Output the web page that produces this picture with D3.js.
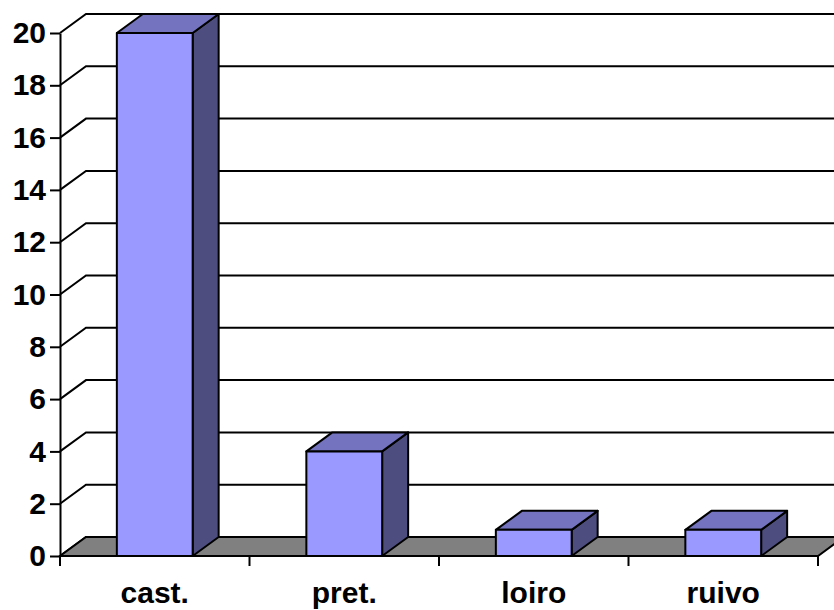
<!DOCTYPE html>
<html>
<head>
<meta charset="utf-8">
<script src="https://cdn.jsdelivr.net/npm/d3@7"></script>
<style>
    body { margin: 0; background: #fff; }
    text { font-family: "Liberation Sans", Arial, sans-serif; font-weight: bold; }
</style>
</head>
<body>
<div class="graph1"></div>
<script>
// hair colour counts
const categories = ["cast.", "pret.", "loiro", "ruivo"];
const counts = [20, 4, 1, 1];
const yTicks = [0, 2, 4, 6, 8, 10, 12, 14, 16, 18, 20];

const dataset = categories.map((c, i) => ({ name: c, value: counts[i] }));

const w = 834;
const h = 610;

// depth of the 3d box
const depth = { dx: 26, dy: 19 };

const svg = d3.select(".graph1")
    .append("svg")
    .attr("width", w)
    .attr("height", h);

const yScale = d3.scaleLinear()
    .domain([0, 20])
    .range([556, 33]);

const xScale = d3.scaleBand()
    .domain(categories)
    .range([60, 818])
    .paddingInner(0.6)
    .paddingOuter(0.3);

// plain band scale for the category tick marks
const xEdges = d3.scaleBand()
    .domain(categories)
    .range([60, 818]);

// back wall + side wall gridlines
svg.append("g")
    .selectAll("path")
    .data(yTicks)
    .enter()
    .append("path")
    .attr("fill", "none")
    .attr("stroke", "#000")
    .attr("stroke-width", 2)
    .attr("d", d => `M60,${yScale(d)} L${60 + depth.dx},${yScale(d) - depth.dy} L${w + 20},${yScale(d) - depth.dy}`);

// floor
const y0 = yScale(0);
svg.append("path")
    .attr("fill", "#808080")
    .attr("stroke", "#000")
    .attr("stroke-width", 2)
    .attr("d", `M60,${y0} L818,${y0} L${818 + depth.dx},${y0 - depth.dy} L${60 + depth.dx},${y0 - depth.dy} Z`);

// bars
const bars = svg.append("g")
    .selectAll("g")
    .data(dataset)
    .enter()
    .append("g")
    .attr("stroke", "#000")
    .attr("stroke-width", 2)
    .attr("stroke-linejoin", "round");

const bw = xScale.bandwidth();

bars.append("path")
    .attr("fill", "#4d4d80")
    .attr("d", d => {
        const x = xScale(d.name) + bw, yt = yScale(d.value);
        return `M${x},${yt} L${x + depth.dx},${yt - depth.dy} L${x + depth.dx},${y0 - depth.dy} L${x},${y0} Z`;
    });

bars.append("path")
    .attr("fill", "#7373bf")
    .attr("d", d => {
        const x = xScale(d.name), yt = yScale(d.value);
        return `M${x},${yt} L${x + depth.dx},${yt - depth.dy} L${x + bw + depth.dx},${yt - depth.dy} L${x + bw},${yt} Z`;
    });

bars.append("rect")
    .attr("fill", "#9999ff")
    .attr("x", d => xScale(d.name))
    .attr("y", d => yScale(d.value))
    .attr("width", bw)
    .attr("height", d => y0 - yScale(d.value));

// y axis
const yAxis = d3.axisLeft(yScale)
    .tickValues(yTicks)
    .tickSize(10)
    .tickSizeOuter(0)
    .tickPadding(4);

const yAxisGroup = svg.append("g")
    .attr("class", "axisY")
    .attr("transform", "translate(60,0)")
    .call(yAxis);

yAxisGroup.selectAll("line, path")
    .attr("stroke", "#000")
    .attr("stroke-width", 2);
yAxisGroup.selectAll("text")
    .attr("font-size", "30px")
    .attr("fill", "#000");

// x axis: line, tick marks at band edges, labels
svg.append("line")
    .attr("x1", 60).attr("x2", 818)
    .attr("y1", y0).attr("y2", y0)
    .attr("stroke", "#000")
    .attr("stroke-width", 2);

const edges = categories.map(c => xEdges(c)).concat([818]);
svg.append("g")
    .selectAll("line")
    .data(edges)
    .enter()
    .append("line")
    .attr("x1", d => d).attr("x2", d => d)
    .attr("y1", y0).attr("y2", y0 + 10)
    .attr("stroke", "#000")
    .attr("stroke-width", 2);

svg.append("g")
    .selectAll("text")
    .data(categories)
    .enter()
    .append("text")
    .attr("x", d => xEdges(d) + xEdges.bandwidth() / 2)
    .attr("y", 603)
    .attr("text-anchor", "middle")
    .attr("font-size", "30px")
    .text(d => d);
</script>
</body>
</html>
